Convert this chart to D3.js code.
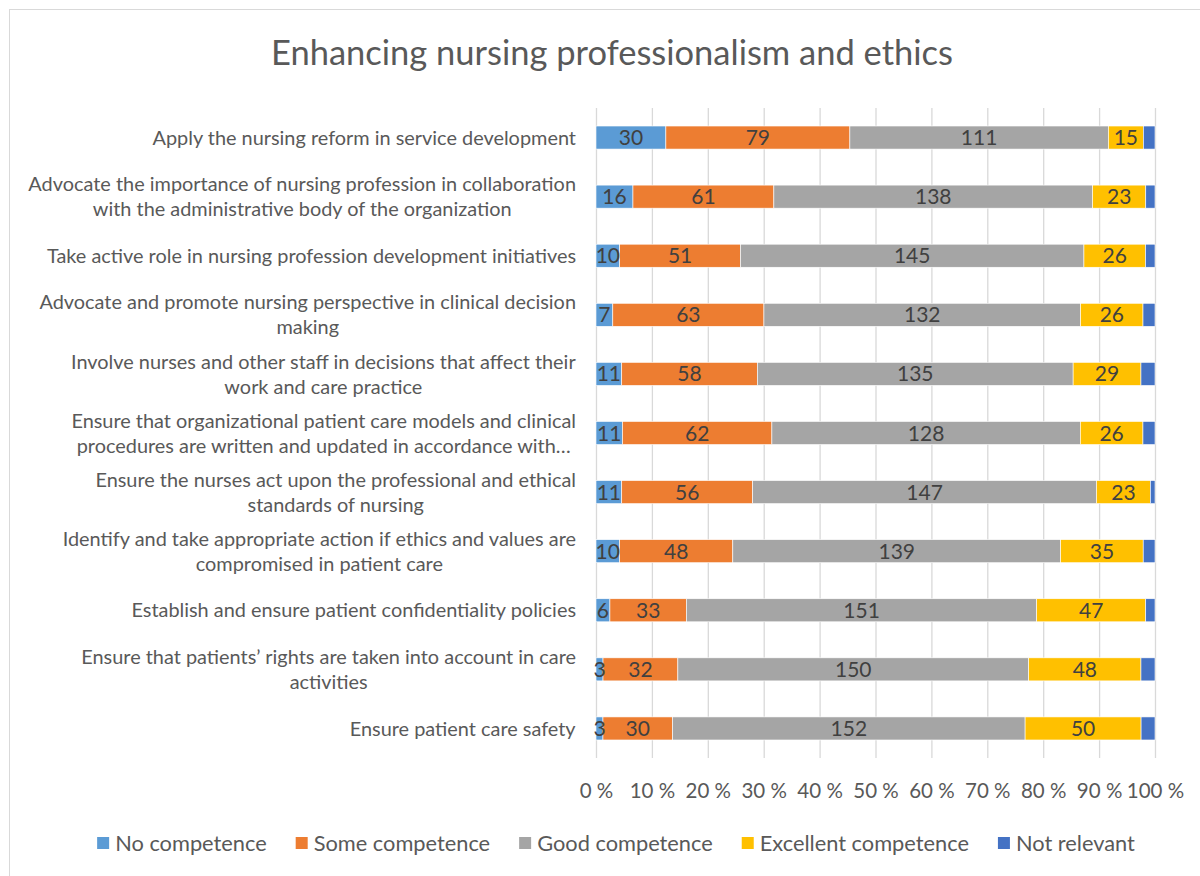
<!DOCTYPE html>
<html>
<head>
<meta charset="utf-8">
<script src="https://cdn.jsdelivr.net/npm/d3@7"></script>
<style>
  html, body { margin: 0; padding: 0; background: #fff; }
  svg { display: block; }
  text { font-family: Lato, "Noto Sans", sans-serif; }
</style>
</head>
<body>
<svg id="chart" width="1200" height="876"></svg>
<script>
// ---- Data (top to bottom as displayed) ----
const categories = [
  "Apply the nursing reform in service development",
  "Advocate the importance of nursing profession in collaboration\nwith the administrative body of the organization",
  "Take active role in nursing profession development initiatives",
  "Advocate and promote nursing perspective in clinical decision\nmaking",
  "Involve nurses and other staff in decisions that affect their\nwork and care practice",
  "Ensure that organizational patient care models and clinical\nprocedures are written and updated in accordance with…",
  "Ensure the nurses act upon the professional and ethical\nstandards of nursing",
  "Identify and take appropriate action if ethics and values are\ncompromised in patient care",
  "Establish and ensure patient confidentiality policies",
  "Ensure that patients’ rights are taken into account in care\nactivities",
  "Ensure patient care safety"
];
const seriesNames = ["No competence", "Some competence", "Good competence", "Excellent competence", "Not relevant"];
const noCompetence       = [30, 16, 10, 7, 11, 11, 11, 10, 6, 3, 3];
const someCompetence     = [79, 61, 51, 63, 58, 62, 56, 48, 33, 32, 30];
const goodCompetence     = [111, 138, 145, 132, 135, 128, 147, 139, 151, 150, 152];
const excellentCompetence= [15, 23, 26, 26, 29, 26, 23, 35, 47, 48, 50];
const notRelevant        = [5, 4, 4, 5, 6, 5, 2, 5, 4, 6, 6];
const seriesColors = ["#5B9BD5", "#ED7D31", "#A5A5A5", "#FFC000", "#4472C4"];
const showLabel = [true, true, true, true, false];
const tickValues = [0, 0.1, 0.2, 0.3, 0.4, 0.5, 0.6, 0.7, 0.8, 0.9, 1.0];
const title = "Enhancing nursing professionalism and ethics";

// ---- Build table ----
const seriesArrays = [noCompetence, someCompetence, goodCompetence, excellentCompetence, notRelevant];
const rows = categories.map((c, i) => {
  const r = { category: c };
  seriesNames.forEach((s, j) => r[s] = seriesArrays[j][i]);
  return r;
});
const stack = d3.stack().keys(seriesNames).offset(d3.stackOffsetExpand);
const stacked = stack(rows);

const svg = d3.select("#chart");

// chart border
svg.append("rect").attr("x", 9.5).attr("y", 9.5).attr("width", 1200).attr("height", 880)
  .attr("fill", "#fff").attr("stroke", "#D9D9D9").attr("stroke-width", 1);

const pLeft = 596, pRight = 1155, pTop = 108, pBottom = 758;
const x = d3.scaleLinear().domain([0, 1]).range([pLeft, pRight]);
const y = d3.scaleBand().domain(categories).range([pTop, pBottom]).paddingInner(0.61).paddingOuter(0.305);

// title
svg.append("text").attr("x", 612).attr("y", 65).attr("text-anchor", "middle")
  .attr("font-size", 34.5).attr("fill", "#595959").text(title);

// gridlines
const grid = svg.append("g").attr("transform", `translate(0,${pBottom})`)
  .call(d3.axisBottom(x).tickValues(tickValues).tickSize(-(pBottom - pTop)).tickFormat(""));
grid.select(".domain").remove();
grid.selectAll("line").attr("stroke", "#D9D9D9").attr("stroke-width", 1.3);

// bars
const layers = svg.append("g").selectAll("g").data(stacked).join("g")
  .attr("fill", (d, i) => seriesColors[i]);
layers.selectAll("rect").data(d => d.map(v => ({ v, cat: v.data.category })))
  .join("rect")
  .attr("x", d => x(d.v[0]))
  .attr("width", d => x(d.v[1]) - x(d.v[0]))
  .attr("y", d => y(d.cat))
  .attr("height", y.bandwidth())
  .attr("stroke", "#fff").attr("stroke-width", 0.6);

// data labels
stacked.forEach((layer, i) => {
  if (!showLabel[i]) return;
  svg.append("g").selectAll("text").data(layer).join("text")
    .attr("x", d => (x(d[0]) + x(d[1])) / 2)
    .attr("y", d => y(d.data.category) + y.bandwidth() / 2)
    .attr("dy", "0.36em")
    .attr("text-anchor", "middle")
    .attr("font-size", 21).attr("fill", "#404040")
    .text(d => d.data[layer.key]);
});

// category labels
const catG = svg.append("g");
categories.forEach(c => {
  const lines = c.split("\n");
  const cy = y(c) + y.bandwidth() / 2;
  const lh = 25;
  const t = catG.append("text").attr("text-anchor", "middle").attr("font-size", 19.9).attr("fill", "#595959");
  lines.forEach((ln, k) => {
    t.append("tspan").attr("x", 0).attr("y", cy + (k - (lines.length - 1) / 2) * lh).attr("dy", "0.36em").text(ln);
  });
  const w = t.node().getBBox().width;
  t.attr("transform", `translate(${576 - w / 2},0)`);
});

// x axis tick labels
const ax = svg.append("g").attr("transform", `translate(0,${pBottom})`)
  .call(d3.axisBottom(x).tickValues(tickValues).tickSize(0).tickPadding(25)
    .tickFormat(d => Math.round(d * 100) + " %"));
ax.select(".domain").remove();
ax.selectAll("text").attr("font-size", 20.5).attr("fill", "#595959").attr("font-family", "Lato, sans-serif");

// legend
const legend = svg.append("g");
let lx = 0;
const gap = 29;
seriesNames.forEach((s, i) => {
  const g = legend.append("g");
  g.append("rect").attr("x", 0).attr("y", -6).attr("width", 12).attr("height", 12).attr("fill", seriesColors[i]);
  const t = g.append("text").attr("x", 18).attr("y", 0).attr("dy", "0.36em")
    .attr("font-size", 21.8).attr("fill", "#595959").text(s);
  const w = 18 + t.node().getComputedTextLength();
  g.attr("transform", `translate(${lx},0)`);
  lx += w + gap;
});
const totalW = lx - gap;
legend.attr("transform", `translate(${616 - totalW / 2},843)`);
</script>
</body>
</html>
